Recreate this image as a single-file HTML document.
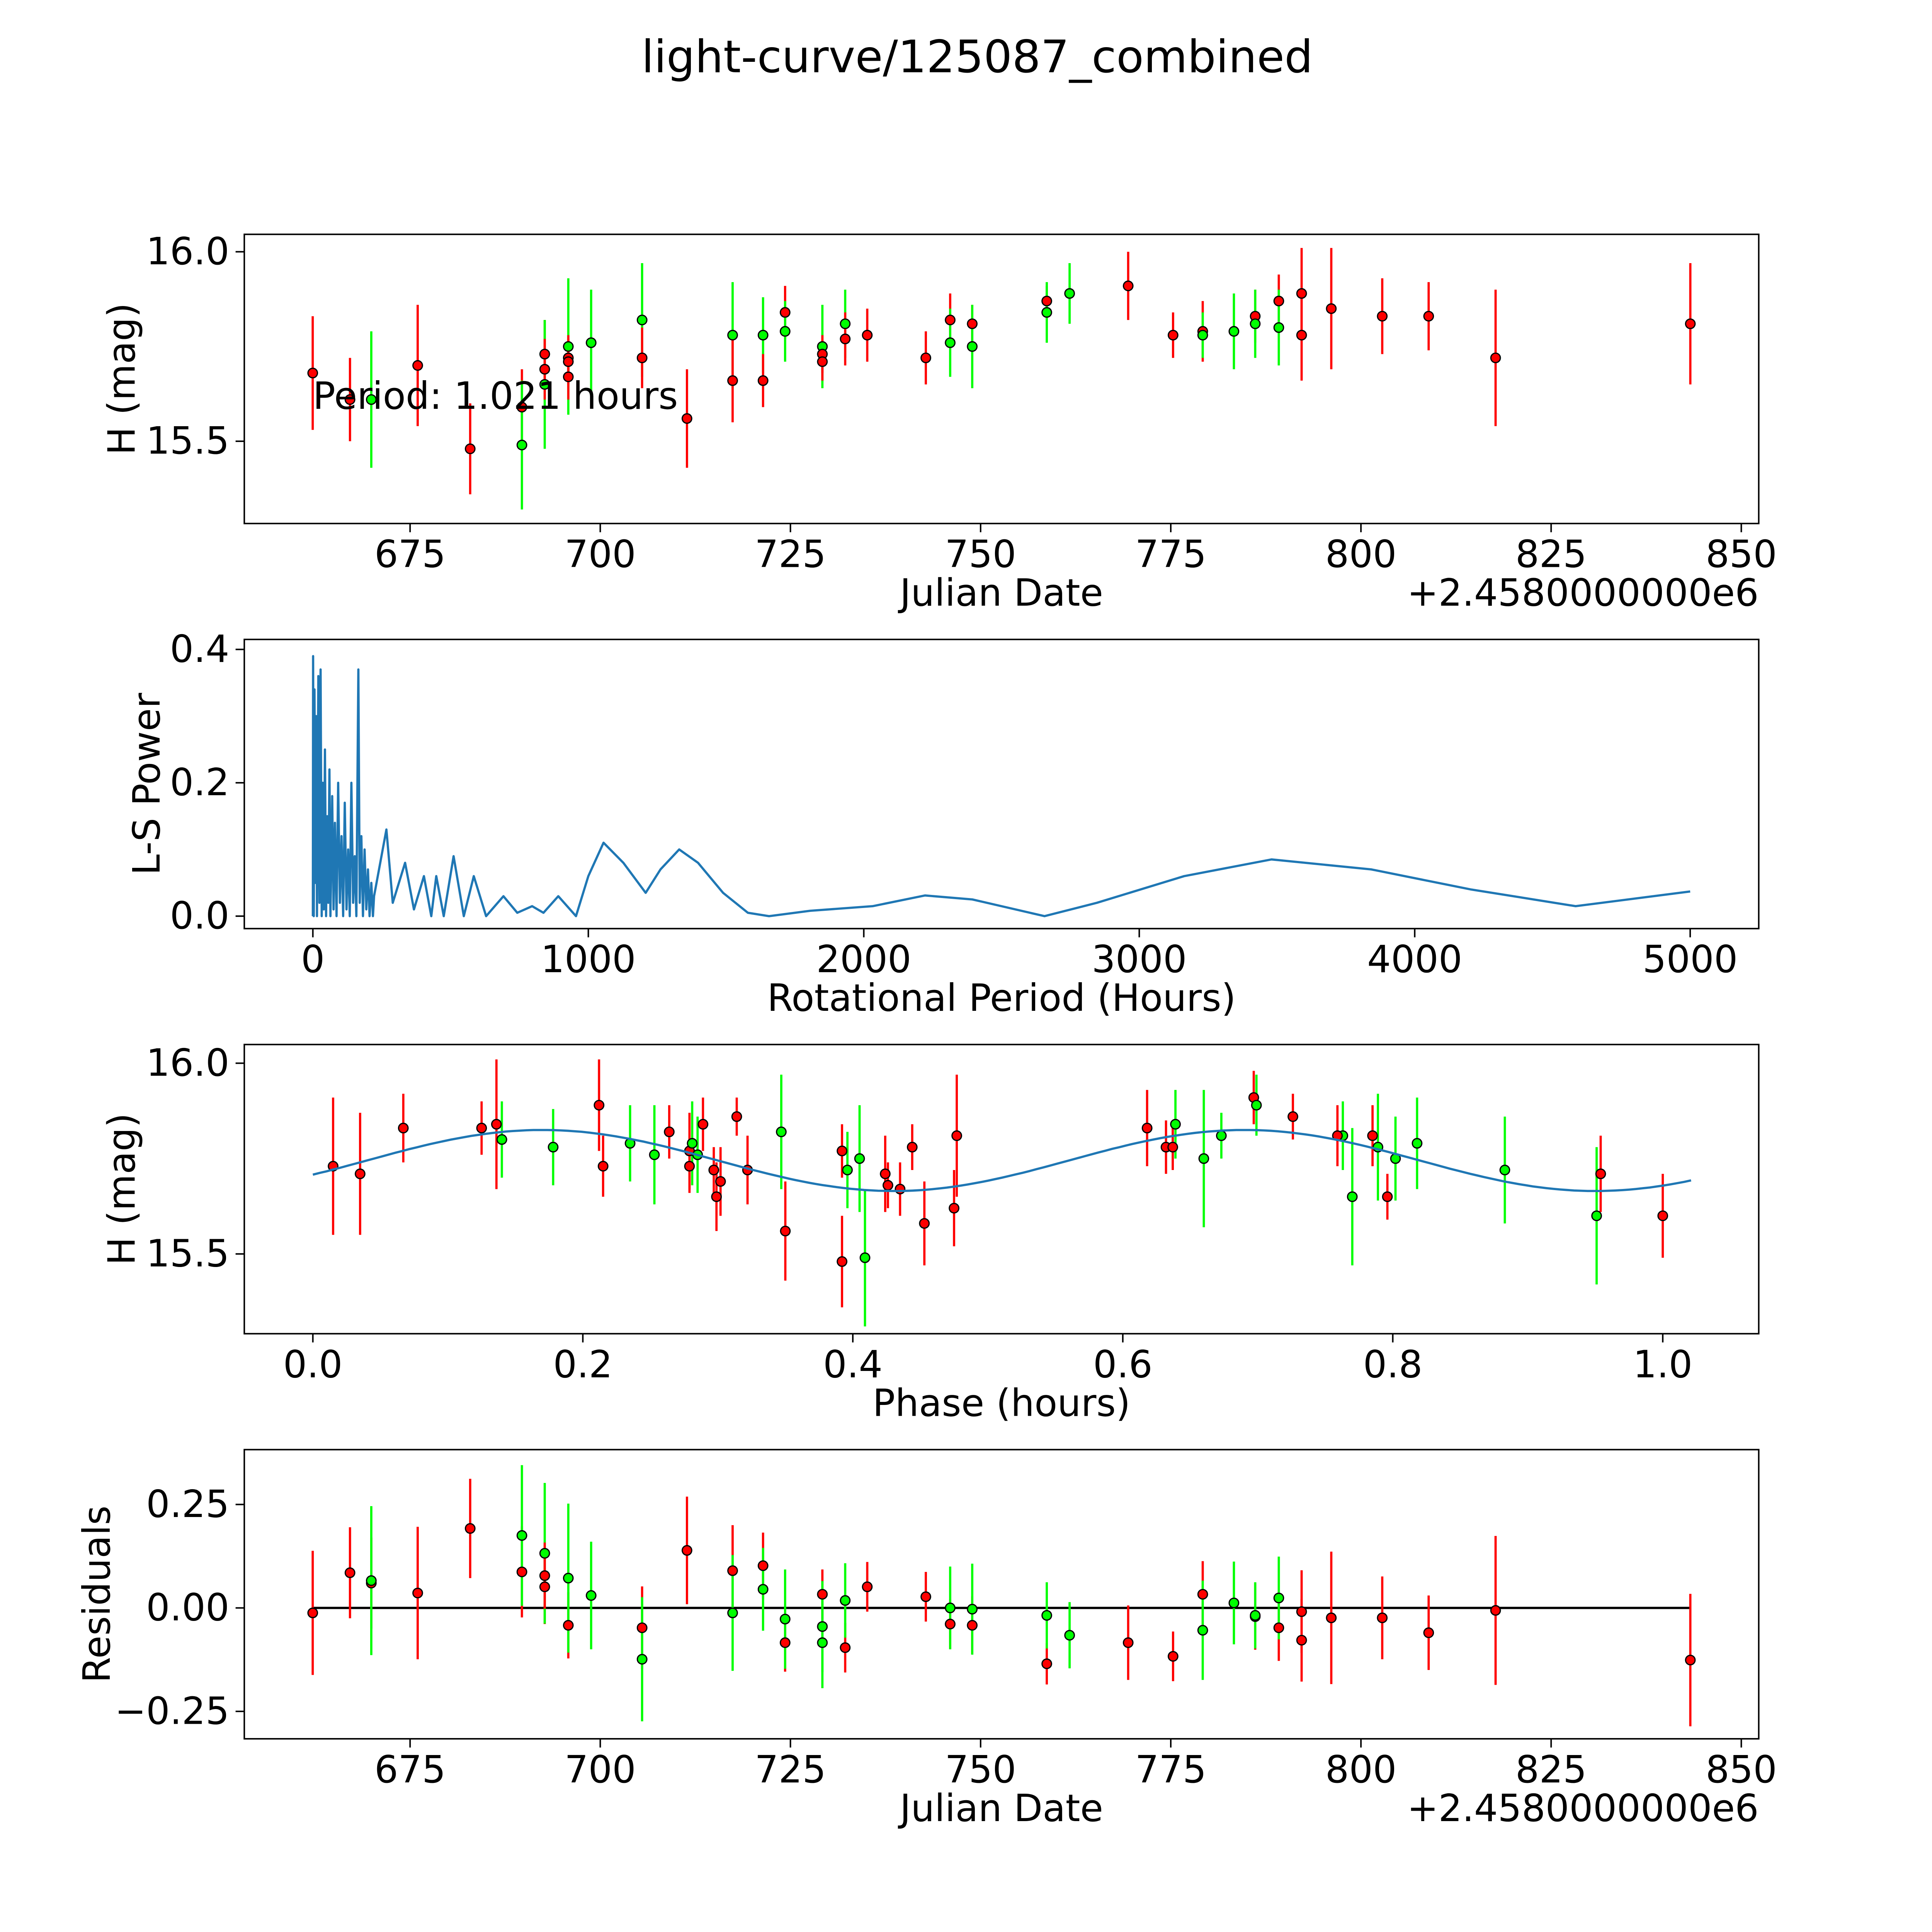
<!DOCTYPE html>
<html><head><meta charset="utf-8"><style>
html,body{margin:0;padding:0;background:#fff;overflow:hidden;width:100%;height:100%}
svg{display:block;position:absolute;left:0;top:0;width:100vw;height:100vh}
text{font-family:"DejaVu Sans","Liberation Sans",sans-serif;fill:#000}
</style></head><body>
<svg id="fig" xmlns="http://www.w3.org/2000/svg" viewBox="0 0 1550 1550" preserveAspectRatio="none">
<rect width="1550" height="1550" fill="#fff"/>
<text x="784" y="58" font-size="36" text-anchor="middle">light-curve/125087_combined</text>
</svg>
<script>
// ---- Panel 1: light curve ----
const lcDates=[662.2,667.1,669.9,676.0,682.9,689.7,689.7,692.7,692.7,692.7,695.8,695.8,695.8,695.8,698.8,705.5,705.5,711.4,717.4,717.4,721.4,721.4,724.3,724.3,729.2,729.2,729.2,732.2,732.2,735.1,742.8,746.0,746.0,748.9,748.9,758.7,758.7,761.7,769.4,775.3,779.2,779.2,783.3,786.1,786.1,789.2,789.2,792.2,792.2,796.1,802.8,808.9,817.7,843.3];
const lcMags=[15.68,15.61,15.61,15.70,15.48,15.59,15.49,15.73,15.65,15.69,15.75,15.72,15.71,15.67,15.76,15.82,15.72,15.56,15.78,15.66,15.78,15.66,15.84,15.79,15.75,15.73,15.71,15.81,15.77,15.78,15.72,15.82,15.76,15.81,15.75,15.87,15.84,15.89,15.91,15.78,15.79,15.78,15.79,15.83,15.81,15.87,15.80,15.89,15.78,15.85,15.83,15.83,15.72,15.81];
const lcErrs=[0.15,0.11,0.18,0.16,0.12,0.10,0.17,0.09,0.17,0.08,0.18,0.06,0.06,0.06,0.14,0.15,0.08,0.13,0.14,0.11,0.10,0.07,0.07,0.08,0.11,0.05,0.05,0.09,0.07,0.07,0.07,0.07,0.09,0.05,0.11,0.04,0.08,0.08,0.09,0.06,0.08,0.06,0.10,0.07,0.09,0.07,0.10,0.12,0.12,0.16,0.10,0.09,0.18,0.16];
const lcColors=['r','r','g','r','r','r','g','r','g','r','g','r','r','r','g','g','r','r','g','r','g','r','r','g','g','r','r','g','r','r','r','r','g','r','g','r','g','g','r','r','r','g','g','r','g','r','g','r','r','r','r','r','r','r'];
// ---- Panel 2: periodogram ----
const lsPeriods=[0,1,3,6,9,12,15,20,24,28,32,36,40,44,48,52,56,60,64,70,75,80,86,92,98,104,110,116,122,128,134,140,146,152,158,165,170,176,182,188,194,200,206,212,218,222,267,290,335,367,403,430,448,475,511,548,584,629,692,742,796,837,891,955,1000,1055,1127,1208,1262,1330,1398,1489,1579,1656,1805,2032,2222,2394,2656,2846,3163,3480,3842,4204,4584,5000];
const lsPower=[0,0.39,0,0.34,0.05,0.3,0,0.36,0.02,0.37,0,0.2,0.01,0.25,0,0.15,0.02,0.22,0,0.18,0.01,0.14,0,0.2,0.02,0.12,0,0.17,0.01,0.1,0,0.2,0.02,0.09,0,0.37,0.02,0.12,0,0.1,0.01,0.07,0,0.05,0,0.03,0.13,0.02,0.08,0.01,0.06,0,0.06,0,0.09,0,0.06,0,0.03,0.005,0.015,0.005,0.03,0,0.06,0.11,0.08,0.035,0.07,0.10,0.08,0.035,0.005,0,0.008,0.015,0.031,0.025,0,0.02,0.06,0.085,0.07,0.04,0.015,0.037];
// ---- Panel 3: phased ----
const phPhase=[0.015,0.035,0.067,0.125,0.136,0.140,0.178,0.212,0.215,0.235,0.253,0.264,0.279,0.281,0.279,0.285,0.289,0.297,0.299,0.302,0.322,0.314,0.350,0.347,0.392,0.396,0.392,0.409,0.405,0.424,0.426,0.435,0.444,0.453,0.475,0.477,0.618,0.632,0.639,0.637,0.660,0.673,0.697,0.699,0.726,0.763,0.759,0.770,0.785,0.789,0.796,0.802,0.818,0.883,0.951,0.954,1.000];
const phMags=[15.73,15.71,15.83,15.83,15.84,15.80,15.78,15.89,15.73,15.79,15.76,15.82,15.77,15.79,15.73,15.76,15.84,15.72,15.65,15.69,15.72,15.86,15.56,15.82,15.77,15.72,15.48,15.49,15.75,15.71,15.68,15.67,15.78,15.58,15.62,15.81,15.83,15.78,15.84,15.78,15.75,15.81,15.91,15.89,15.86,15.81,15.81,15.65,15.81,15.78,15.65,15.75,15.79,15.72,15.60,15.71,15.60];
const phErrs=[0.18,0.16,0.09,0.07,0.17,0.10,0.10,0.12,0.08,0.10,0.13,0.07,0.10,0.11,0.07,0.10,0.07,0.06,0.09,0.09,0.09,0.05,0.13,0.15,0.07,0.10,0.12,0.18,0.14,0.10,0.06,0.07,0.06,0.11,0.10,0.16,0.10,0.07,0.09,0.06,0.18,0.06,0.07,0.08,0.06,0.09,0.08,0.18,0.08,0.14,0.06,0.11,0.12,0.14,0.18,0.10,0.11];
const phColors=['r','r','r','r','r','g','g','r','r','g','g','r','r','g','r','g','r','r','r','r','r','r','r','g','r','g','r','g','g','r','r','r','r','r','r','r','r','r','g','r','g','g','r','g','r','g','r','g','r','g','r','g','g','g','g','r','r'];
// fitted model (sinusoid parameters)
const fitMean=15.745, fitAmp=0.08, fitPeriod=0.52, fitShift=0.04, fitMaxPhase=1.021;
// ---- Panel 4: residuals ----
const resDates=[662.2,667.1,669.9,669.9,676.0,682.9,689.7,689.7,692.7,692.7,692.7,695.8,695.8,698.8,705.5,705.5,711.4,717.4,717.4,721.4,721.4,724.3,724.3,729.2,729.2,729.2,732.2,732.2,735.1,742.8,746.0,746.0,748.9,748.9,758.7,758.7,761.7,769.4,775.3,779.2,779.2,783.3,786.1,786.1,789.2,789.2,792.2,792.2,796.1,802.8,808.9,817.7,843.3];
const resVals=[-0.012,0.085,0.06,0.066,0.036,0.192,0.087,0.175,0.051,0.132,0.078,-0.042,0.072,0.03,-0.048,-0.124,0.139,0.09,-0.012,0.102,0.045,-0.084,-0.027,0.033,-0.045,-0.084,-0.096,0.018,0.051,0.027,-0.039,0,-0.042,-0.003,-0.135,-0.018,-0.066,-0.084,-0.117,0.033,-0.054,0.012,-0.021,-0.018,-0.048,0.024,-0.009,-0.078,-0.024,-0.024,-0.06,-0.006,-0.126];
const resErrs=[0.15,0.11,0.11,0.18,0.16,0.12,0.11,0.17,0.09,0.17,0.08,0.08,0.18,0.13,0.1,0.15,0.13,0.11,0.14,0.08,0.1,0.07,0.12,0.06,0.11,0.11,0.06,0.09,0.06,0.06,0.06,0.1,0.07,0.11,0.05,0.08,0.08,0.09,0.06,0.08,0.12,0.1,0.08,0.08,0.08,0.1,0.1,0.1,0.16,0.1,0.09,0.18,0.16];
const resColors=['r','r','r','g','r','r','r','g','r','g','r','r','g','g','r','g','r','r','g','r','g','r','g','r','g','g','r','g','r','r','r','g','r','g','r','g','g','r','r','r','g','g','r','g','r','g','r','r','r','r','r','r','r'];

const NS='http://www.w3.org/2000/svg';
const svg=document.getElementById('fig');
function mk(tag,attrs,parent){const e=document.createElementNS(NS,tag);for(const k in attrs)e.setAttribute(k,attrs[k]);(parent||svg).appendChild(e);return e;}
function lin(d0,d1,p0,p1){return v=>p0+(v-d0)*(p1-p0)/(d1-d0);}
const COL={r:'#ff0000',g:'#00ff00'};
const L=196,R=1411;
const TF=30, LF=30;

function axes(name,top,bot,xs,xticks,xfmt,ys,yticks,yfmt,xlabel,ylabel,ylabelX,offset){
  const g=mk('g',{});
  
  
  xticks.forEach(t=>{const x=xs(t);
    mk('line',{x1:x,x2:x,y1:bot,y2:bot+7,stroke:'#000','stroke-width':1.2},g);
    const tx=mk('text',{x:x,y:bot+35,'font-size':TF,'text-anchor':'middle'},g);tx.textContent=xfmt(t);
    
    });
  yticks.forEach(t=>{const y=ys(t);
    mk('line',{x1:L-7,x2:L,y1:y,y2:y,stroke:'#000','stroke-width':1.2},g);
    const tx=mk('text',{x:L-12,y:y+10,'font-size':TF,'text-anchor':'end'},g);tx.textContent=yfmt(t);
    
    });
  const xl=mk('text',{x:(L+R)/2,y:bot+66,'font-size':LF,'text-anchor':'middle'},g);xl.textContent=xlabel;
  
  
  const cy=(top+bot)/2;
  const yl=mk('text',{x:ylabelX,y:cy,'font-size':LF,'text-anchor':'middle',transform:`rotate(-90 ${ylabelX} ${cy})`},g);yl.textContent=ylabel;
  
  
  if(offset){const o=mk('text',{x:R,y:bot+66,'font-size':LF,'text-anchor':'end'},g);o.textContent=offset;
    
    }
  return g;
}
function frame(top,bot){const f=mk('rect',{x:L,y:top,width:R-L,height:bot-top,fill:'none',stroke:'#000','stroke-width':1.2});
  
  }
function points(xsArr,ysArr,errs,cols,xs,ys,name){
  const g=mk('g',{});
  
  
  for(let i=0;i<xsArr.length;i++){const x=xs(xsArr[i]),c=COL[cols[i]];
    const l=mk('line',{x1:x,x2:x,y1:ys(ysArr[i]-errs[i]),y2:ys(ysArr[i]+errs[i]),stroke:c,'stroke-width':1.8},g);
    
    }
  for(let i=0;i<xsArr.length;i++){
    const p=mk('circle',{cx:xs(xsArr[i]),cy:ys(ysArr[i]),r:3.8,fill:COL[cols[i]],stroke:'#000','stroke-width':1},g);
    
    }
}
const dateTicks=[675,700,725,750,775,800,825,850];

// Panel 1
{const xs=lin(675,850,329,1397), ys=lin(16,15.5,202,354);
 axes('light-curve-axes',188,420,xs,dateTicks,String,ys,[16.0,15.5],v=>v.toFixed(1),'Julian Date','H (mag)',108,'+2.4580000000e6');
 points(lcDates,lcMags,lcErrs,lcColors,xs,ys,'light-curve-points');
 const t=mk('text',{x:251,y:328,'font-size':LF});t.textContent='Period: 1.021 hours';
 
 
 frame(188,420);}
// Panel 2
{const xs=lin(0,5000,251,1356), ys=lin(0,0.4,735,521);
 axes('periodogram-axes',513,745,xs,[0,1000,2000,3000,4000,5000],String,ys,[0,0.2,0.4],v=>v.toFixed(1),'Rotational Period (Hours)','L-S Power',128);
 const pts=lsPeriods.map((p,i)=>xs(p).toFixed(1)+','+ys(lsPower[i]).toFixed(1)).join(' ');
 const pl=mk('polyline',{points:pts,fill:'none',stroke:'#1f77b4','stroke-width':1.8,'stroke-linejoin':'round'});
 
 
 frame(513,745);}
// Panel 3
{const xs=lin(0,1,251,1334), ys=lin(16,15.5,853,1006);
 axes('phase-axes',838,1070,xs,[0,0.2,0.4,0.6,0.8,1.0],v=>v.toFixed(1),ys,[16.0,15.5],v=>v.toFixed(1),'Phase (hours)','H (mag)',108);
 points(phPhase,phMags,phErrs,phColors,xs,ys,'phase-points');
 let d='';for(let k=0;k<=200;k++){const p=fitMaxPhase*k/200;const m=fitMean+fitAmp*Math.sin(2*Math.PI*(p-fitShift)/fitPeriod);d+=(k?'L':'M')+xs(p).toFixed(1)+' '+ys(m).toFixed(1);}
 const fl=mk('path',{d:d,fill:'none',stroke:'#1f77b4','stroke-width':1.8});
 
 
 frame(838,1070);}
// Panel 4
{const xs=lin(675,850,329,1397), ys=lin(0,0.25,1290,1207);
 axes('residuals-axes',1163,1395,xs,dateTicks,String,ys,[0.25,0,-0.25],v=>(v<0?'\u2212':'')+Math.abs(v).toFixed(2),'Julian Date','Residuals',88,'+2.4580000000e6');
 const zl=mk('line',{x1:xs(662.2),x2:xs(843.3),y1:ys(0),y2:ys(0),stroke:'#000','stroke-width':1.8});
 
 
 points(resDates,resVals,resErrs,resColors,xs,ys,'residual-points');
 frame(1163,1395);}
</script>
</body></html>
